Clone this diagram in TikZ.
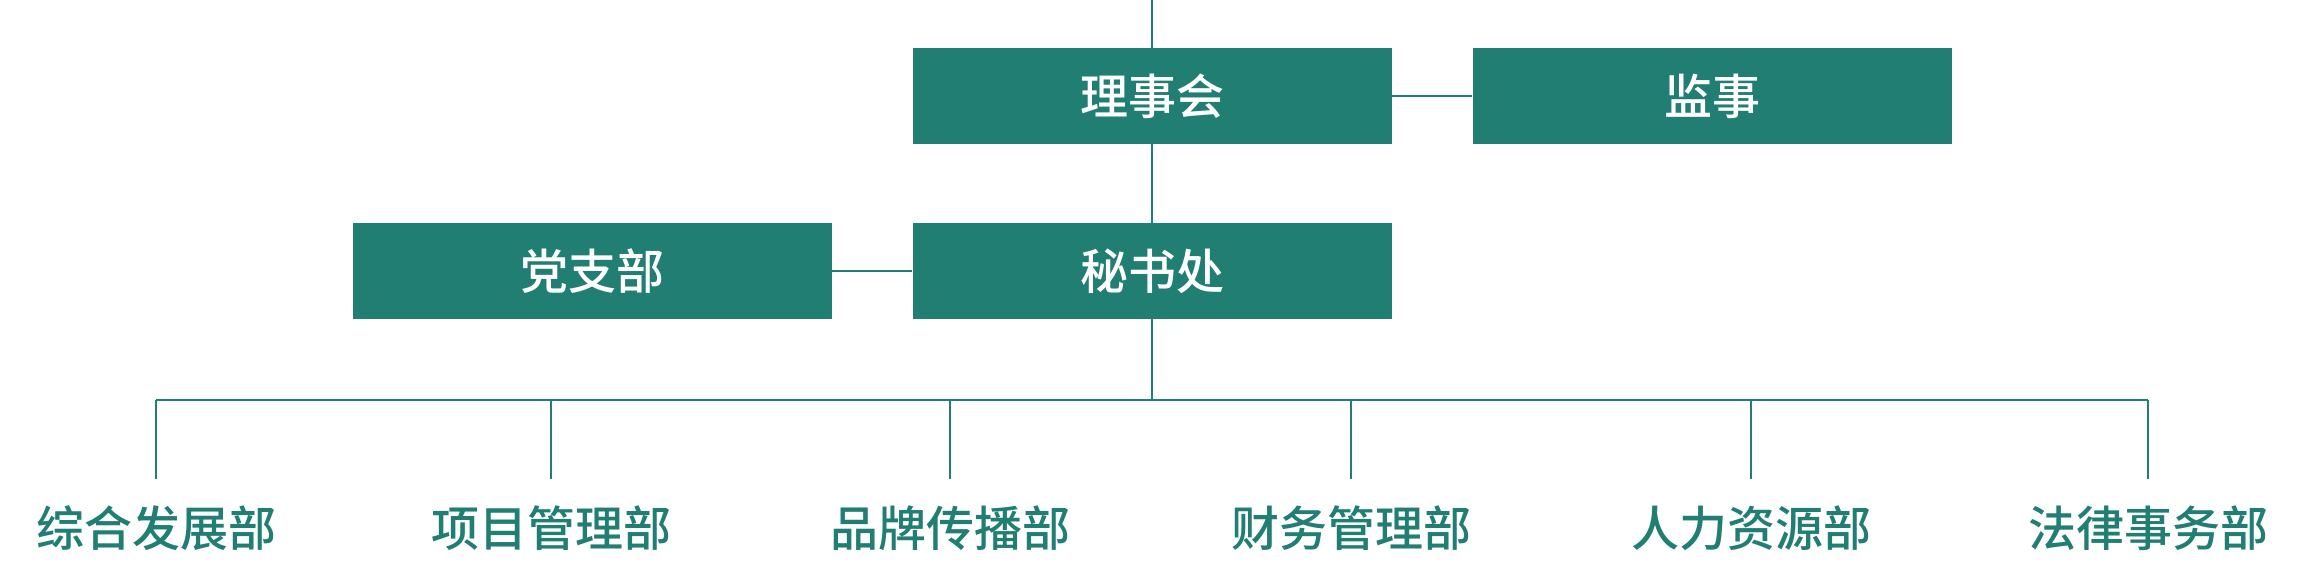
\documentclass[tikz,border=0pt]{standalone}
\usepackage{fontspec}
\setmainfont{Noto Sans CJK SC}
\newfontfamily\cjkmed{Noto Sans CJK SC Medium}
\usepackage{xcolor}
\definecolor{orgteal}{RGB}{32,126,115}

\tikzset{
  orgbox/.style={fill=orgteal, text=white, minimum width=479pt, minimum height=96pt,
    inner sep=0pt, font=\fontsize{48}{56}\selectfont\cjkmed},
  deptlabel/.style={text=orgteal, inner sep=0pt, font=\fontsize{48}{56}\selectfont\cjkmed},
  orgline/.style={draw=orgteal, line width=2pt}
}

\begin{document}
\begin{tikzpicture}[x=1pt,y=-1pt]
  \useasboundingbox (0,0) rectangle (2304,576);

  % top level
  \node[orgbox] (council) at (1152,96) {理事会};
  \node[orgbox] (supervisor) at (1712,96) {监事};
  \node[orgbox] (party) at (592,271) {党支部};
  \node[orgbox] (secretariat) at (1152,271) {秘书处};

  \coordinate (top) at (1152,0);
  \coordinate (bus) at (1152,400);
  \coordinate (busL) at (156,400);
  \coordinate (busR) at (2148,400);

  \draw[orgline] (top) -- (council);
  \draw[orgline] (council) -- (supervisor);
  \draw[orgline] (council) -- (secretariat);
  \draw[orgline] (secretariat) -- (party);
  \draw[orgline] (secretariat) -- (bus);
  \draw[orgline] (busL) -- (busR);

  % departments
  \foreach \x/\name/\txt in {156/deptA/综合发展部, 551/deptB/项目管理部, 950/deptC/品牌传播部,
      1351/deptD/财务管理部, 1751/deptE/人力资源部, 2148/deptF/法律事务部} {
    \coordinate (\name top) at (\x,400);
    \coordinate (\name end) at (\x,479);
    \node[deptlabel] (\name) at (\x,528) {\txt};
    \draw[orgline] (\name top) -- (\name end);
  }
\end{tikzpicture}
\end{document}
